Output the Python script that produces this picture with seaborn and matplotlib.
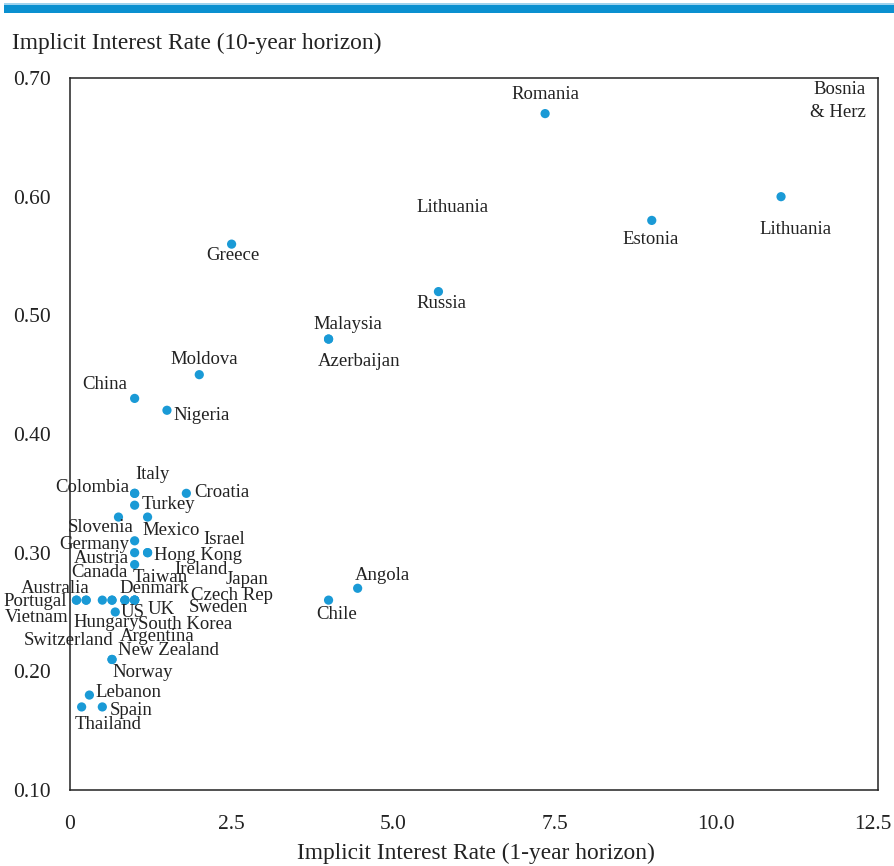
import pandas as pd
import seaborn as sns
import matplotlib.pyplot as plt
import matplotlib.transforms as mtransforms
from matplotlib.patches import Rectangle
from matplotlib.ticker import FuncFormatter

countries = ['Romania', 'Bosnia\n& Herz', 'Lithuania', 'Estonia', 'Greece', 'Russia', 'Malaysia',
             'Azerbaijan', 'Moldova', 'China', 'Nigeria', 'Angola', 'Chile', 'Italy', 'Colombia',
             'Croatia', 'Turkey', 'Slovenia', 'Mexico', 'Germany', 'Israel', 'Hong Kong', 'Austria',
             'Canada', 'Ireland', 'Taiwan', 'Japan', 'Denmark', 'Czech Rep', 'Sweden', 'UK',
             'Australia', 'Portugal', 'Vietnam', 'Switzerland', 'Hungary', 'South Korea',
             'Argentina', 'US', 'New Zealand', 'Norway', 'Lebanon', 'Thailand', 'Spain']
rate_1y = [7.35, 13.5, 11.0, 9.0, 2.5, 5.7, 4.0,
           4.0, 2.0, 1.0, 1.5, 4.45, 4.0, 1.0, 1.0,
           1.8, 1.0, 0.75, 1.2, 1.0, 1.2, 1.2, 1.0,
           1.0, 1.0, 1.0, 1.0, 0.85, 1.0, 0.85, 0.85,
           0.1, 0.25, 0.1, 0.25, 0.5, 0.65,
           0.65, 0.7, 0.65, 0.65, 0.3, 0.18, 0.5]
rate_10y = [0.67, 0.69, 0.60, 0.58, 0.56, 0.52, 0.48,
            0.48, 0.45, 0.43, 0.42, 0.27, 0.26, 0.35, 0.35,
            0.35, 0.34, 0.33, 0.33, 0.31, 0.30, 0.30, 0.30,
            0.29, 0.26, 0.26, 0.26, 0.26, 0.26, 0.26, 0.26,
            0.26, 0.26, 0.26, 0.26, 0.26, 0.26,
            0.26, 0.25, 0.21, 0.21, 0.18, 0.17, 0.17]

# where each name sits (data coords, text centre)
label_pos = {
    'Romania': (7.35, 0.6865), 'Bosnia\n& Herz': (12.31, 0.6806), 'Lithuania': (11.23, 0.5727),
    'Estonia': (8.99, 0.5643), 'Greece': (2.52, 0.550), 'Russia': (5.74, 0.5096),
    'Malaysia': (4.30, 0.4919), 'Azerbaijan': (4.47, 0.4607), 'Moldova': (2.07, 0.4624),
    'China': (0.54, 0.4413), 'Nigeria': (2.04, 0.416), 'Angola': (4.84, 0.2804),
    'Chile': (4.13, 0.2475), 'Italy': (1.27, 0.3655), 'Colombia': (0.34, 0.3545),
    'Croatia': (2.35, 0.3503), 'Turkey': (1.52, 0.341), 'Slovenia': (0.48, 0.3216),
    'Mexico': (1.56, 0.3183), 'Israel': (2.38, 0.3107), 'Germany': (0.37, 0.3065),
    'Hong Kong': (1.98, 0.2972), 'Austria': (0.48, 0.2947), 'Ireland': (2.03, 0.2862),
    'Canada': (0.46, 0.2837), 'Taiwan': (1.39, 0.2787), 'Japan': (2.74, 0.277),
    'Australia': (-0.23, 0.2702), 'Denmark': (1.30, 0.2694), 'Czech Rep': (2.51, 0.2643),
    'Portugal': (-0.54, 0.2585), 'UK': (1.41, 0.2517), 'US': (0.97, 0.2492),
    'Sweden': (2.29, 0.2542), 'Vietnam': (-0.51, 0.245), 'Hungary': (0.56, 0.2408),
    'South Korea': (1.78, 0.2391), 'Switzerland': (-0.02, 0.2256), 'Argentina': (1.35, 0.229),
    'New Zealand': (1.52, 0.2172), 'Norway': (1.13, 0.1986), 'Lebanon': (0.91, 0.1818),
    'Spain': (0.94, 0.1674), 'Thailand': (0.59, 0.1548),
}
extra_labels = [('Lithuania', 5.91, 0.5905)]

x_ticks = [0, 2.5, 5.0, 7.5, 10.0, 12.5]
y_ticks = [0.10, 0.20, 0.30, 0.40, 0.50, 0.60, 0.70]

df = pd.DataFrame({'country': countries, 'r1': rate_1y, 'r10': rate_10y})

sns.set_style('white')
plt.rcParams['font.family'] = ['Liberation Serif', 'DejaVu Serif']
dot_color = '#1a9ad6'

fig = plt.figure(figsize=(8.94, 8.66), dpi=100)
ax = fig.add_axes([70 / 894, 76 / 866, 808 / 894, 712 / 866])

sns.scatterplot(data=df, x='r1', y='r10', ax=ax, color=dot_color, s=44,
                edgecolor='none', legend=False, zorder=3)

ax.set_xlim(0, 12.5)
ax.set_ylim(0.10, 0.70)
ax.set_xticks(x_ticks)
ax.set_yticks(y_ticks)
ax.xaxis.set_major_formatter(FuncFormatter(lambda v, p: '0' if v == 0 else f'{v:.1f}'))
ax.yaxis.set_major_formatter(FuncFormatter(lambda v, p: f'{v:.2f}'))
ax.tick_params(axis='both', direction='in', length=6, width=1, color='#333333',
               labelsize=15.5, labelcolor='#222222')
ax.tick_params(axis='x', pad=18)
ax.tick_params(axis='y', pad=14)
# nudge the last x label so it stays inside the figure
last = ax.xaxis.get_major_ticks()[-1].label1
last.set_transform(last.get_transform() + mtransforms.ScaledTranslation(-5 / 100, 0, fig.dpi_scale_trans))
for sp in ax.spines.values():
    sp.set_color('#222222')
    sp.set_linewidth(1.1)
ax.set_xlabel('')
ax.set_ylabel('')

for name in countries:
    tx, ty = label_pos[name]
    ha = 'right' if name.startswith('Bosnia') else 'center'
    ax.text(tx, ty, name, ha=ha, va='center', fontsize=13.5, color='#222222',
            linespacing=1.5, multialignment='right', clip_on=False)
for name, tx, ty in extra_labels:
    ax.text(tx, ty, name, ha='center', va='center', fontsize=13.5, color='#222222')

fig.text(12 / 894, 1 - 43 / 866, 'Implicit Interest Rate (10-year horizon)', ha='left',
         va='center', fontsize=16.8, color='#222222')
fig.text(476 / 894, 1 - 853 / 866, 'Implicit Interest Rate (1-year horizon)', ha='center',
         va='center', fontsize=16.8, color='#222222')

# blue band at the top
fig.patches.append(Rectangle((0.005, 1 - 13 / 866), 0.995, 8 / 866, transform=fig.transFigure,
                             facecolor='#0a90d0', edgecolor='none'))
fig.patches.append(Rectangle((0.005, 1 - 5 / 866), 0.995, 1.5 / 866, transform=fig.transFigure,
                             facecolor='#9fd3ee', edgecolor='none'))

fig.savefig('out.png', dpi=100)
